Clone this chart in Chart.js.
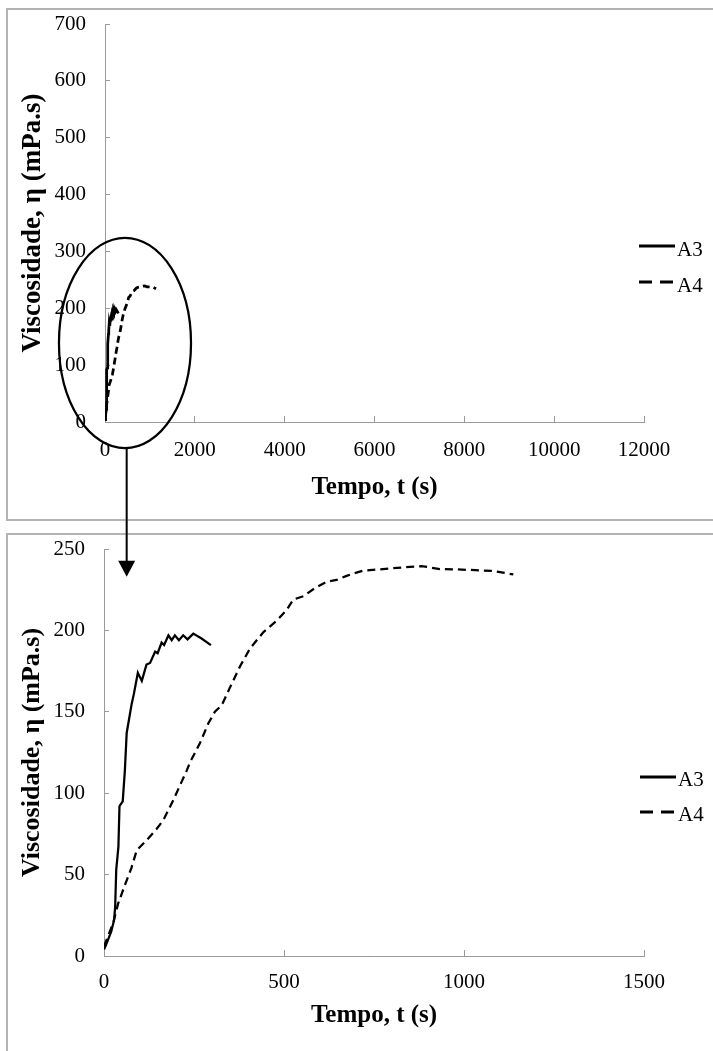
<!DOCTYPE html>
<html>
<head>
<meta charset="utf-8">
<title>Viscosidade x Tempo</title>
<script src="https://cdn.jsdelivr.net/npm/chart.js@4.4.0/dist/chart.umd.min.js"></script>
<style>
    html, body { margin: 0; padding: 0; width: 713px; height: 1051px; overflow: hidden; background: #fff; }
    .quadro { position: absolute; border: 2px solid #b3b3b3; box-sizing: border-box; }
    #quadro1 { left: 6px; top: 8px; width: 760px; height: 513px; }
    #quadro2 { left: 6px; top: 533px; width: 760px; height: 560px; }
    canvas { position: absolute; left: 0; }
    #grafico1 { top: 0; }
    #grafico2 { top: 534px; }
    #anotacao { top: 0; pointer-events: none; }
</style>
</head>
<body>
<div class="quadro" id="quadro1"></div>
<div class="quadro" id="quadro2"></div>
<canvas id="grafico1" width="713" height="520"></canvas>
<canvas id="grafico2" width="713" height="517"></canvas>
<canvas id="anotacao" width="713" height="1051"></canvas>
<script>
'use strict';

// Dados: tempo (s) e viscosidade (mPa.s)
var tempoA3 = [0, 6, 20, 28, 31, 34, 40, 43, 52, 58, 63, 77, 83, 94, 105, 118, 128, 142, 149, 160,
    167, 179, 188, 197, 208, 220, 232, 248, 271, 297];
var viscA3 = [4, 7, 15, 22, 30, 53, 67, 92, 95, 114, 137, 155, 161, 174, 169, 179, 180, 187, 186, 192.5,
    191, 197, 194, 197, 194, 197, 194.5, 198, 195, 191];

var tempoA4 = [0, 25, 39, 57, 76, 91, 118, 146, 165, 193, 230, 239, 267, 290, 308, 327, 350, 378, 406, 443,
    480, 507, 526, 554, 586, 619, 646, 674, 693, 720, 794, 831, 882, 933, 980, 1031, 1081, 1137];
var viscA4 = [6, 20, 32, 43, 54, 65, 71, 78, 83.5, 96, 114, 119, 131, 143, 150, 154, 165, 178, 189, 199,
    206, 212.5, 219, 221, 226, 230, 231, 233.5, 235, 236.7, 238, 238.7, 239.5, 237.7, 237.5, 237, 236.5, 234.4];

var series = ['A3', 'A4'];

// Marcas dos eixos
var ticksXGeral = [0, 2000, 4000, 6000, 8000, 10000, 12000];
var ticksYGeral = [0, 100, 200, 300, 400, 500, 600, 700];
var ticksXZoom = [0, 500, 1000, 1500];
var ticksYZoom = [0, 50, 100, 150, 200, 250];

var fonte = '"Liberation Serif", "Times New Roman", serif';
var cinza = '#9a9a9a';

Chart.defaults.font.family = fonte;
Chart.defaults.color = '#000';

function pontos(ts, vs) {
    return ts.map(function (t, i) { return { x: t, y: vs[i] }; });
}

// legenda à direita, desenhada a partir dos datasets
var legendaLateral = {
    id: 'legendaLateral',
    afterDraw: function (chart, args, o) {
        var ctx = chart.ctx;
        ctx.save();
        ctx.font = '21px ' + fonte;
        ctx.textBaseline = 'middle';
        ctx.fillStyle = '#000';
        chart.data.datasets.forEach(function (ds, i) {
            var y = o.y + i * o.passo;
            ctx.beginPath();
            ctx.setLineDash(ds.borderDash ? [13, 8] : []);
            ctx.lineWidth = 3;
            ctx.strokeStyle = ds.borderColor;
            ctx.moveTo(o.x, y);
            ctx.lineTo(o.x + 36, y);
            ctx.stroke();
            ctx.fillText(ds.label, o.x + 38, y + o.dyTexto);
        });
        ctx.restore();
    }
};

function escala(marcas, extra) {
    return Object.assign({
        type: 'linear',
        min: marcas[0],
        max: marcas[marcas.length - 1],
        afterBuildTicks: function (s) {
            s.ticks = marcas.map(function (v) { return { value: v }; });
        },
        border: { color: cinza, width: 1 }
    }, extra);
}

function criarGrafico(id, c) {
    return new Chart(document.getElementById(id), {
        type: 'line',
        data: {
            datasets: [{
                label: series[0],
                data: pontos(tempoA3, viscA3),
                borderColor: '#000',
                borderWidth: c.espessura,
                pointRadius: 0,
                fill: false
            }, {
                label: series[1],
                data: pontos(tempoA4, viscA4),
                borderColor: '#000',
                borderWidth: c.espessura,
                borderDash: c.tracejado,
                pointRadius: 0,
                fill: false
            }]
        },
        options: {
            responsive: false,
            animation: false,
            layout: { padding: { left: 0, right: 69, top: c.topo, bottom: 0 } },
            plugins: {
                legend: { display: false },
                tooltip: { enabled: false },
                legendaLateral: c.legenda
            },
            scales: {
                x: escala(c.ticksX, {
                    ticks: {
                        padding: c.padX, maxRotation: 0, font: { size: 21 },
                        callback: function (v) { return String(v); }
                    },
                    grid: { drawOnChartArea: false, color: cinza, tickLength: -6 },
                    title: {
                        display: true,
                        text: 'Tempo, t (s)',
                        font: { size: 25, weight: 'bold' },
                        padding: { top: 0, bottom: c.padTituloX }
                    },
                    afterFit: function (s) { s.height = c.alturaX; }
                }),
                y: escala(c.ticksY, {
                    ticks: {
                        padding: 24, font: { size: 21 },
                        callback: function (v) { return String(v); }
                    },
                    grid: { drawOnChartArea: false, color: cinza, tickLength: -5 },
                    title: {
                        display: true,
                        text: 'Viscosidade, η (mPa.s)',
                        font: { size: c.tamTituloY, weight: 'bold' },
                        padding: { top: c.padTituloY, bottom: 0 }
                    },
                    afterFit: function (s) {
                        s.width = c.larguraY;
                        s.paddingTop = 0;
                        s.paddingBottom = 0;
                    }
                })
            }
        },
        plugins: [legendaLateral]
    });
}

var geral = criarGrafico('grafico1', {
    ticksX: ticksXGeral, ticksY: ticksYGeral,
    espessura: 2.75, tracejado: [7, 4],
    topo: 24, larguraY: 105, alturaX: 98, padX: 22, padTituloX: 17,
    tamTituloY: 27, padTituloY: 17,
    legenda: { x: 639, y: 246, passo: 36, dyTexto: 4 }
});

var zoom = criarGrafico('grafico2', {
    ticksX: ticksXZoom, ticksY: ticksYZoom,
    espessura: 2.25, tracejado: [8, 5],
    topo: 15, larguraY: 104, alturaX: 95, padX: 20, padTituloX: 20,
    tamTituloY: 26, padTituloY: 17,
    legenda: { x: 640, y: 243, passo: 35, dyTexto: 3 }
});

// elipse destacando a região ampliada e seta até o gráfico de baixo
var anot = document.getElementById('anotacao').getContext('2d');
var topo2 = 534;
var sx = geral.scales.x, sy = geral.scales.y;
var cx = sx.getPixelForValue(445);
var cy = sy.getPixelForValue(139);
var rx = sx.getPixelForValue(445 + 1470) - cx;
var ry = cy - sy.getPixelForValue(139 + 185);

anot.strokeStyle = '#000';
anot.fillStyle = '#000';
anot.lineWidth = 2.25;
anot.beginPath();
anot.ellipse(cx, cy, rx, ry, 0, 0, 2 * Math.PI);
anot.stroke();

var setaX = zoom.scales.x.getPixelForValue(63);
var setaFim = topo2 + zoom.scales.y.getPixelForValue(233);
anot.lineWidth = 2;
anot.beginPath();
anot.moveTo(setaX, cy + ry);
anot.lineTo(setaX, setaFim - 14);
anot.stroke();
anot.beginPath();
anot.moveTo(setaX - 8.5, setaFim - 16);
anot.lineTo(setaX + 8.5, setaFim - 16);
anot.lineTo(setaX, setaFim);
anot.closePath();
anot.fill();
</script>
</body>
</html>
